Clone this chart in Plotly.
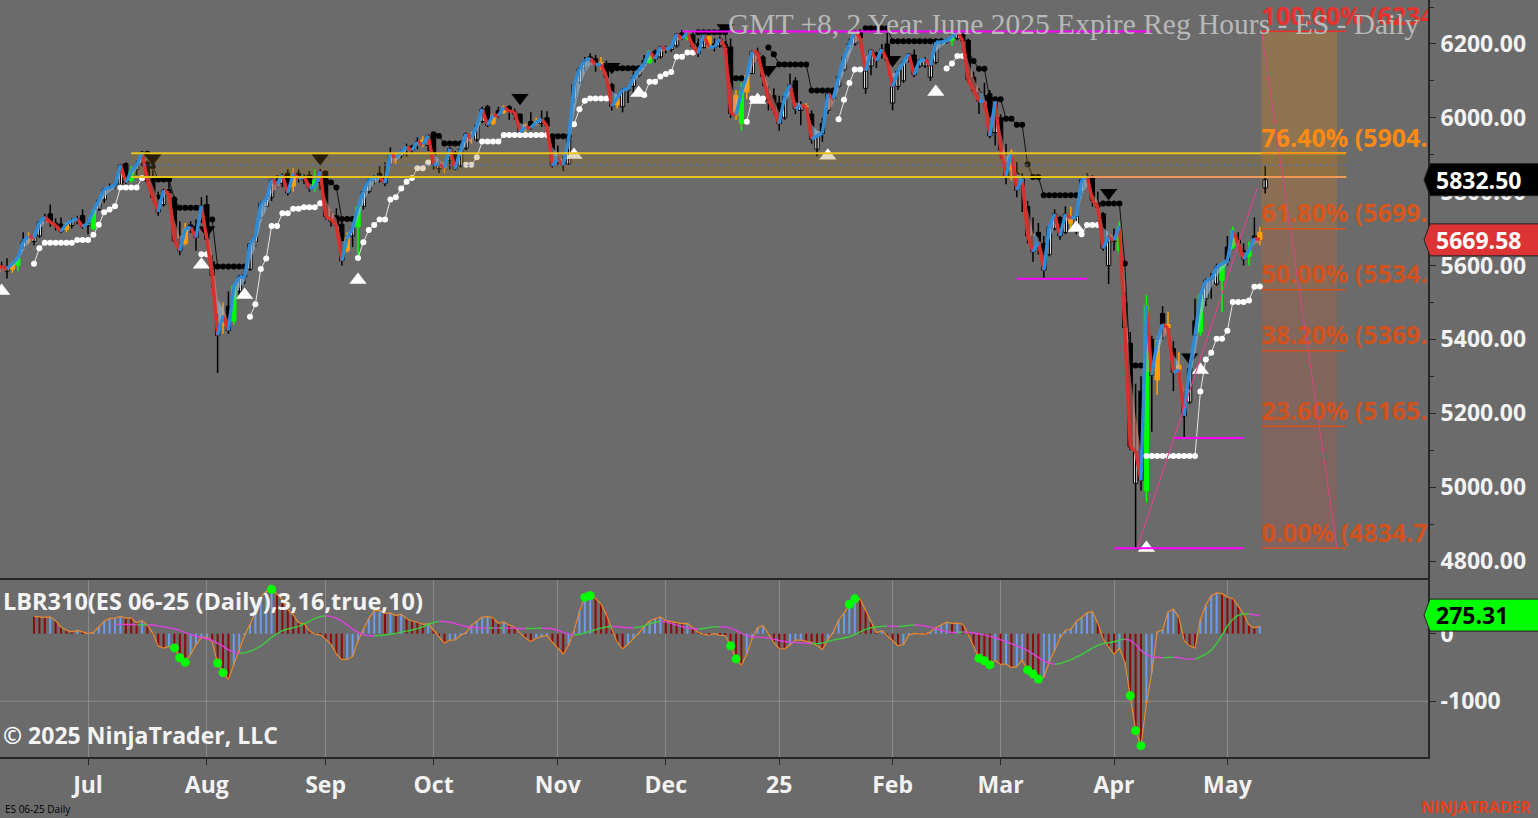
import numpy as np
import plotly.graph_objects as go

# ES 06-25 daily bars (reg hours). Bar index 0 = 1 Jul 2024, first bar = 3 Jun 2024
first_index = -19

opens = [
    5540, 5525, 5560, 5598, 5585, 5590, 5600, 5650, 5675, 5665, 5680, 5722, 5740, 5715, 5712, 5698, 5708, 5722, 5735,  # Jun
    5708, 5700, 5752, 5778, 5810, 5816, 5820, 5876, 5830, 5860, 5875, 5880, 5835, 5790, 5765, 5805, 5780, 5672, 5660, 5710, 5706, 5722,  # Jul
    5765, 5610, 5440, 5440, 5490, 5450, 5530, 5575, 5590, 5665, 5730, 5760, 5785, 5830, 5822, 5850, 5815, 5850, 5832, 5845, 5830, 5825,  # Aug
    5855, 5720, 5735, 5712, 5640, 5680, 5705, 5760, 5800, 5830, 5850, 5838, 5875, 5900, 5897, 5915, 5923, 5935, 5940, 5925,  # Sep
    5950, 5862, 5868, 5885, 5905, 5870, 5918, 5945, 5940, 5990, 6030, 5985, 6020, 6015, 6030, 6010, 6010, 5975, 5990, 5990, 5985, 6000, 5950,  # Oct
    5895, 5880, 5875, 6050, 6095, 6135, 6165, 6160, 6150, 6145, 6090, 6035, 6030, 6075, 6085, 6115, 6155, 6150, 6180, 6165,  # Nov
    6185, 6185, 6195, 6230, 6215, 6225, 6200, 6190, 6220, 6200, 6195, 6200, 6192, 6060, 5985, 6070, 6120, 6170, 6165, 6065, 6060,  # Dec
    6040, 6000, 6080, 6100, 6020, 6030, 6010, 5915, 5985, 6020, 6070, 6085, 6130, 6190, 6200, 6235, 6080, 6140, 6175, 6175, 6200,  # Jan
    6040, 6085, 6100, 6160, 6170, 6140, 6140, 6110, 6150, 6205, 6205, 6210, 6215, 6225, 6210, 6110, 6070, 6060, 6065, 5960,  # Feb
    6000, 5880, 5860, 5850, 5815, 5760, 5680, 5690, 5660, 5630, 5700, 5730, 5690, 5715, 5700, 5800, 5835, 5840, 5770, 5740, 5600,  # Mar
    5665, 5640, 5500, 5390, 5010, 5260, 4990, 5400, 5290, 5470, 5440, 5375, 5330, 5250, 5230, 5450, 5420, 5510, 5565, 5550, 5560,  # Apr
    5650, 5650, 5670, 5640, 5625, 5680, 5690, 5810,  # May
]
highs = [
    5552, 5545, 5602, 5610, 5620, 5612, 5625, 5690, 5690, 5680, 5722, 5740, 5765, 5728, 5730, 5718, 5728, 5735, 5752,
    5722, 5752, 5778, 5810, 5822, 5830, 5875, 5880, 5870, 5885, 5910, 5884, 5858, 5800, 5808, 5826, 5788, 5720, 5715, 5720, 5725, 5785,
    5790, 5628, 5470, 5500, 5530, 5550, 5575, 5592, 5662, 5684, 5775, 5785, 5835, 5845, 5850, 5860, 5865, 5860, 5848, 5856, 5860, 5862,
    5858, 5748, 5755, 5730, 5690, 5708, 5765, 5805, 5835, 5845, 5870, 5880, 5920, 5905, 5915, 5930, 5927, 5947, 5950, 5955,
    5955, 5885, 5880, 5920, 5910, 5920, 5960, 5962, 5985, 6030, 6035, 6010, 6030, 6035, 6035, 6025, 6012, 5985, 6015, 6000, 6020, 6018, 5955,
    5925, 5895, 5945, 6095, 6140, 6165, 6175, 6170, 6165, 6155, 6095, 6060, 6080, 6080, 6125, 6140, 6170, 6182, 6185, 6195,
    6195, 6195, 6230, 6238, 6238, 6232, 6215, 6228, 6225, 6215, 6220, 6208, 6215, 6075, 6095, 6118, 6182, 6190, 6170, 6085, 6080,
    6060, 6065, 6120, 6110, 6045, 6040, 6020, 5955, 6000, 6070, 6075, 6120, 6170, 6215, 6238, 6240, 6140, 6185, 6180, 6200, 6230,
    6110, 6130, 6155, 6175, 6185, 6160, 6165, 6150, 6210, 6215, 6215, 6225, 6236, 6230, 6215, 6125, 6080, 6095, 6075, 6050,
    6010, 5930, 5915, 5880, 5850, 5775, 5730, 5715, 5680, 5710, 5752, 5735, 5760, 5760, 5740, 5840, 5850, 5845, 5800, 5745, 5685,
    5700, 5720, 5530, 5420, 5280, 5300, 5520, 5410, 5410, 5490, 5475, 5395, 5365, 5260, 5340, 5510, 5525, 5565, 5580, 5605, 5610,
    5680, 5705, 5690, 5660, 5665, 5730, 5705, 5870,
]
lows = [
    5505, 5515, 5555, 5585, 5565, 5580, 5585, 5645, 5660, 5655, 5675, 5715, 5705, 5695, 5688, 5690, 5700, 5712, 5700,
    5685, 5695, 5748, 5770, 5805, 5808, 5818, 5818, 5825, 5845, 5868, 5822, 5775, 5735, 5760, 5790, 5662, 5628, 5655, 5688, 5640, 5715,
    5650, 5540, 5309, 5415, 5415, 5440, 5520, 5550, 5585, 5650, 5725, 5755, 5775, 5810, 5812, 5790, 5800, 5825, 5820, 5800, 5800, 5805,
    5725, 5705, 5700, 5600, 5635, 5650, 5620, 5752, 5795, 5820, 5825, 5815, 5870, 5875, 5890, 5895, 5903, 5915, 5920, 5910,
    5860, 5850, 5850, 5860, 5858, 5865, 5912, 5930, 5935, 5985, 5975, 5980, 6000, 6010, 5995, 5995, 5950, 5955, 5968, 5980, 5975, 5975, 5865,
    5870, 5855, 5872, 6040, 6090, 6125, 6150, 6125, 6130, 6100, 6020, 6025, 6015, 6040, 6060, 6110, 6135, 6145, 6150, 6160,
    6175, 6178, 6190, 6210, 6210, 6185, 6165, 6188, 6188, 6180, 6190, 6180, 6000, 5995, 5965, 6050, 6118, 6155, 6085, 6020, 6010,
    5965, 5995, 6070, 6010, 5980, 6020, 5930, 5895, 5935, 6010, 6045, 6080, 6125, 6185, 6195, 6200, 6065, 6115, 6135, 6160, 6145,
    6020, 6075, 6095, 6150, 6110, 6135, 6135, 6100, 6145, 6195, 6200, 6195, 6210, 6185, 6095, 6065, 6010, 6030, 5945, 5925,
    5890, 5820, 5830, 5785, 5745, 5660, 5610, 5630, 5566, 5625, 5695, 5670, 5685, 5700, 5685, 5790, 5825, 5760, 5740, 5640, 5550,
    5640, 5630, 5420, 5100, 4834.75, 4990, 4960, 5150, 5250, 5400, 5410, 5260, 5300, 5133, 5225, 5400, 5410, 5490, 5510, 5545, 5475,
    5600, 5645, 5650, 5600, 5600, 5665, 5655, 5795,
]
closes = [
    5528, 5536, 5599, 5597, 5592, 5605, 5620, 5666, 5679, 5676, 5718, 5732, 5718, 5709, 5692, 5714, 5722, 5727, 5705,
    5715, 5749, 5777, 5807, 5812, 5817, 5873, 5825, 5855, 5871, 5907, 5828, 5785, 5745, 5804, 5796, 5667, 5640, 5699, 5704, 5676, 5762,
    5671, 5572, 5411, 5465, 5424, 5544, 5569, 5569, 5659, 5680, 5768, 5779, 5833, 5822, 5845, 5796, 5850, 5835, 5842, 5810, 5812, 5855,
    5733, 5725, 5708, 5613, 5676, 5701, 5759, 5801, 5831, 5839, 5839, 5823, 5904, 5893, 5908, 5922, 5912, 5935, 5928, 5952,
    5874, 5874, 5865, 5916, 5861, 5916, 5957, 5945, 5980, 6024, 5980, 6007, 6006, 6029, 6018, 6016, 5962, 5974, 5973, 5988, 5997, 5978, 5870,
    5888, 5872, 5942, 6089, 6133, 6155, 6161, 6144, 6145, 6109, 6031, 6053, 6077, 6077, 6109, 6130, 6147, 6181, 6159, 6192,
    6187, 6190, 6227, 6215, 6230, 6193, 6174, 6225, 6191, 6191, 6214, 6190, 6012, 6007, 6071, 6114, 6180, 6177, 6111, 6047, 6022,
    5984, 6057, 6090, 6024, 6033, 6030, 5942, 5951, 5958, 6065, 6052, 6112, 6164, 6201, 6234, 6216, 6127, 6183, 6154, 6186, 6155,
    6084, 6127, 6151, 6173, 6116, 6156, 6158, 6142, 6205, 6205, 6210, 6219, 6234, 6208, 6103, 6073, 6045, 6046, 5951, 6045,
    5914, 5843, 5907, 5804, 5835, 5680, 5637, 5664, 5587, 5704, 5740, 5680, 5740, 5728, 5733, 5833, 5842, 5777, 5758, 5646, 5677,
    5668, 5706, 5432, 5109, 5097, 5018, 5492, 5303, 5398, 5441, 5431, 5310, 5318, 5193, 5322, 5411, 5519, 5560, 5563, 5596, 5604,
    5614, 5696, 5660, 5617, 5641, 5674, 5670, 5832.50,
]

month_ticks = [0, 22, 44, 64, 87, 107, 128, 149, 169, 190, 211]
month_labels = ["Jul", "Aug", "Sep", "Oct", "Nov", "Dec", "25", "Feb", "Mar", "Apr", "May"]

# painted bars
green_bars = [-13, 1, 8, 27, 42, 50, 104, 111, 121, 160, 191, 196, 206, 210, 212, 215]
orange_bars = [-14, -11, -4, 18, 25, 38, 48, 57, 62, 66, 71, 75, 77, 81, 83, 95, 98, 115, 120, 122,
               133, 171, 182, 198, 200, 202, 217]

# swing markers
swing_low_idx = [-16, 21, 29, 50, 90, 102, 124, 137, 157, 183, 196, 206]
swing_low_px = [5531, 5602, 5520, 5561, 5899, 6067, 6048, 5897, 6070, 5702, 4835, 5317]
swing_high_idx = [12, 22, 43, 80, 97, 118, 126, 149, 189, 204]
swing_high_px = [5891, 5696, 5891, 6054, 6138, 6243, 6130, 6157, 5797, 5352]

# oscillator thrust dots
thrust_idx = [16, 17, 18, 24, 25, 34, 92, 93, 119, 120, 141, 142, 165, 166, 167, 174, 175, 176, 193, 194, 195]

# drawing objects
fib_low, fib_high = 4834.75, 6234.50
fib_ratios = [0.0, 0.236, 0.382, 0.5, 0.618, 0.764, 1.0]
fib_colors = ["#d2521e", "#d2521e", "#d2521e", "#d2521e", "#d8561c", "#ff8a12", "#e8312c"]
fib_fills = ["#80645f", "#82655d", "#84675b", "#876a58", "#8b6f54", "#8e7450"]
zone_top, zone_bottom = 5903.75, 5840.00
level_start = [110, 172, 190, 201]
level_end = [197, 185, 214, 214]
level_price = [6234.00, 5564.00, 4834.75, 5133.00]

trend_last = 5669.58
osc_last = 275.31

# ---------------------------------------------------------------
o = np.array(opens, float)
h = np.array(highs, float)
l = np.array(lows, float)
c = np.array(closes, float)
x = np.arange(len(c)) + first_index
n_done = len(c) - 1          # last bar is still forming (indicators on bar close)
pos = {int(v): k for k, v in enumerate(x)}


def sma(a, n):
    out = np.full(len(a), np.nan)
    cs = np.cumsum(np.insert(a, 0, 0.0))
    out[n - 1:] = (cs[n:] - cs[:-n]) / n
    return out


BG = "#6b6b6b"
FONT = "Open Sans, Noto Sans, sans-serif"
PLOT_W = 1428.0
fig = go.Figure()

# fib zones (behind everything)
fib_levels = [fib_low + r * (fib_high - fib_low) for r in fib_ratios]
for k in range(len(fib_levels) - 1):
    fig.add_shape(type="rect", xref="x", yref="y", x0=217.3, x1=231.3,
                  y0=fib_levels[k], y1=fib_levels[k + 1], fillcolor=fib_fills[k],
                  line=dict(width=0), layer="below")

# candles
body_col, line_col, cat = [], [], []
for k in range(len(c)):
    xi = int(x[k])
    if xi in green_bars:
        body_col.append("#00ff00"); line_col.append("#00ff00"); cat.append("g")
    elif xi in orange_bars:
        body_col.append("#ffa000"); line_col.append("#ffa000"); cat.append("o")
    elif c[k] >= o[k]:
        body_col.append("#ffffff"); line_col.append("#000000"); cat.append("k")
    else:
        body_col.append("#000000"); line_col.append("#000000"); cat.append("k")

for key, col in [("k", "#000000"), ("g", "#00ff00"), ("o", "#ffa000")]:
    wx, wy = [], []
    for k in range(len(c)):
        if cat[k] == key:
            wx += [x[k], x[k], None]
            wy += [l[k], h[k], None]
    fig.add_trace(go.Scatter(x=wx, y=wy, mode="lines", line=dict(color=col, width=1.5)))

fig.add_trace(go.Bar(x=x, y=np.maximum(np.abs(c - o), 1.5), base=np.minimum(o, c), width=0.8,
                     marker=dict(color=body_col, line=dict(color=line_col, width=1))))

# ATR trailing stops (white = long stop, black = short stop)
tr = np.empty(len(c))
tr[0] = h[0] - l[0]
tr[1:] = np.maximum(h[1:], c[:-1]) - np.minimum(l[1:], c[:-1])
atr = sma(tr, 10)
mult = 1.7
fup = np.full(len(c), np.nan)
fdn = np.full(len(c), np.nan)
trend = np.zeros(len(c), int)
start = 9
fup[start] = c[start] - mult * atr[start]
fdn[start] = c[start] + mult * atr[start]
trend[start] = 1
for k in range(start + 1, n_done):
    up = c[k] - mult * atr[k]
    dn = c[k] + mult * atr[k]
    fup[k] = up if (up > fup[k - 1] or c[k - 1] < fup[k - 1]) else fup[k - 1]
    fdn[k] = dn if (dn < fdn[k - 1] or c[k - 1] > fdn[k - 1]) else fdn[k - 1]
    t = trend[k - 1]
    if t == -1 and c[k] > fdn[k - 1]:
        t = 1
    elif t == 1 and c[k] < fup[k - 1]:
        t = -1
    trend[k] = t
long_stop = [fup[k] if trend[k] == 1 else None for k in range(n_done)]
short_stop = [fdn[k] if trend[k] == -1 else None for k in range(n_done)]
fig.add_trace(go.Scatter(x=x[:n_done], y=long_stop, mode="lines+markers",
                         line=dict(color="#e6e6e6", width=1), marker=dict(color="#ffffff", size=6)))
fig.add_trace(go.Scatter(x=x[:n_done], y=short_stop, mode="lines+markers",
                         line=dict(color="#111111", width=1), marker=dict(color="#000000", size=6)))

# swing triangles
fig.add_trace(go.Scatter(x=swing_low_idx, y=swing_low_px, mode="markers",
                         marker=dict(symbol="triangle-up", size=15, color="#ffffff", line=dict(width=0))))
fig.add_trace(go.Scatter(x=swing_high_idx, y=swing_high_px, mode="markers",
                         marker=dict(symbol="triangle-down", size=15, color="#000000", line=dict(width=0))))

# zone fill (tints what is under it)
fig.add_trace(go.Scatter(x=[8, 233, 233, 8, 8], y=[zone_top, zone_top, zone_bottom, zone_bottom, zone_top],
                         mode="lines", fill="toself", fillcolor="rgba(151,115,23,0.27)", line=dict(width=0)))

# trend line with ribbon
lag = np.empty(len(c))
lag[0] = c[0]
for k in range(1, len(c)):
    lag[k] = 0.55 * c[k] + 0.45 * lag[k - 1]
rib = {True: ([], []), False: ([], [])}
seg = {True: ([], []), False: ([], [])}
for k in range(1, n_done):
    rising = bool(c[k] >= c[k - 1])
    rib[rising][0].extend([x[k - 1], x[k], x[k], x[k - 1], x[k - 1], None])
    rib[rising][1].extend([c[k - 1], c[k], lag[k], lag[k - 1], c[k - 1], None])
    seg[rising][0].extend([x[k - 1], x[k], None])
    seg[rising][1].extend([c[k - 1], c[k], None])
fig.add_trace(go.Scatter(x=rib[True][0], y=rib[True][1], mode="lines", fill="toself",
                         fillcolor="rgba(150,192,228,0.6)", line=dict(width=0)))
fig.add_trace(go.Scatter(x=rib[False][0], y=rib[False][1], mode="lines", fill="toself",
                         fillcolor="rgba(232,140,128,0.55)", line=dict(width=0)))
fig.add_trace(go.Scatter(x=seg[False][0], y=seg[False][1], mode="lines",
                         line=dict(color="#d8302c", width=3.4)))
fig.add_trace(go.Scatter(x=seg[True][0], y=seg[True][1], mode="lines",
                         line=dict(color="#2f8bd6", width=3.4)))

# zone lines
for yv in (zone_top, zone_bottom):
    fig.add_shape(type="line", xref="x", yref="y", x0=8, x1=233, y0=yv, y1=yv,
                  line=dict(color="#e8c41c", width=2))
fig.add_shape(type="line", xref="x", yref="y", x0=8, x1=233, y0=(zone_top + zone_bottom) / 2,
              y1=(zone_top + zone_bottom) / 2, line=dict(color="#4f6fe0", width=1, dash="dot"))
fig.add_shape(type="line", xref="x", yref="y", x0=185, x1=233, y0=zone_bottom, y1=zone_bottom,
              line=dict(color="#f58a6a", width=1.5))

# swing level lines
for s, e, p in zip(level_start, level_end, level_price):
    fig.add_shape(type="line", xref="x", yref="y", x0=s, x1=e, y0=p, y1=p,
                  line=dict(color="#ff00ff", width=2))

# anchor lines
fig.add_shape(type="line", xref="x", yref="y", x0=194.3, y0=fib_low, x1=216.5, y1=5810,
              line=dict(color="#d8448a", width=1.2))
fig.add_shape(type="line", xref="x", yref="y", x0=217.3, y0=fib_high, x1=231.3, y1=fib_low,
              line=dict(color="#d8448a", width=1))

# fib level lines + labels (clipped by the plot area like the original)
for lv, col in zip(fib_levels, fib_colors):
    fig.add_shape(type="line", xref="x", yref="y", x0=217.3, x1=233, y0=lv, y1=lv,
                  line=dict(color=col, width=1.5))
fig.add_trace(go.Scatter(
    x=[217.3] * len(fib_levels), y=fib_levels, mode="text",
    text=[f"{r * 100:.2f}% ({lv:.2f})" for r, lv in zip(fib_ratios, fib_levels)],
    textposition="top right", cliponaxis=True,
    textfont=dict(family=FONT, size=25, color=fib_colors, weight=700)))

# ---------------- lower panel: LBR 3/10 oscillator ----------------
tick_size = 0.25
osc = (sma(c, 3) - sma(c, 10)) / tick_size
valid = np.where(~np.isnan(osc))[0][0]
sig = np.full(len(c), np.nan)
sig[valid:] = sma(osc[valid:], 16)
osc_d = osc[:n_done]
hist_col = ["#6b9bea" if (k > 0 and osc_d[k] >= osc_d[k - 1]) else "#8e0b0b" for k in range(n_done)]
fig.add_trace(go.Bar(x=x[:n_done], y=osc_d, width=0.38, marker=dict(color=hist_col, line=dict(width=0)),
                     xaxis="x2", yaxis="y2"))
fig.add_trace(go.Scatter(x=x[:n_done], y=osc_d, mode="lines", line=dict(color="#e8892c", width=1.2),
                         xaxis="x2", yaxis="y2"))
sg = {True: ([], []), False: ([], [])}
for k in range(1, n_done):
    if np.isnan(sig[k - 1]):
        continue
    r = bool(sig[k] >= sig[k - 1])
    sg[r][0].extend([x[k - 1], x[k], None])
    sg[r][1].extend([sig[k - 1], sig[k], None])
fig.add_trace(go.Scatter(x=sg[True][0], y=sg[True][1], mode="lines", line=dict(color="#3ccf3c", width=1.4),
                         xaxis="x2", yaxis="y2"))
fig.add_trace(go.Scatter(x=sg[False][0], y=sg[False][1], mode="lines", line=dict(color="#e040e0", width=1.4),
                         xaxis="x2", yaxis="y2"))
fig.add_trace(go.Scatter(x=thrust_idx, y=[osc[pos[i]] for i in thrust_idx], mode="markers",
                         marker=dict(color="#00ff00", size=9), xaxis="x2", yaxis="y2"))
fig.add_shape(type="line", xref="paper", yref="y2", x0=0, x1=1, y0=-1000, y1=-1000,
              line=dict(color="#8a8a8a", width=1), layer="below")


# ---------------- value tags on the price axes ----------------
def add_tag(value, text, bg, fg, yref, units_per_px):
    half = 16 * units_per_px
    xa, xb, xc = 1424 / PLOT_W, 1430 / PLOT_W, 1545 / PLOT_W
    path = (f"M {xa},{value} L {xb},{value + half} L {xc},{value + half} "
            f"L {xc},{value - half} L {xb},{value - half} Z")
    fig.add_shape(type="path", path=path, xref="paper", yref=yref, fillcolor=bg,
                  line=dict(width=1, color="#222222"), layer="above")
    fig.add_annotation(x=1434 / PLOT_W, y=value, xref="paper", yref=yref, text=text, showarrow=False,
                       xanchor="left", yanchor="middle",
                       font=dict(family=FONT, size=23, color=fg, weight=700))


main_upp = (6319 - 4754) / 578.0
low_upp = (794 + 1824) / 177.0
add_tag(c[-1], f"{c[-1]:.2f}", "#000000", "#ffffff", "y", main_upp)
add_tag(trend_last, f"{trend_last:.2f}", "#dc3434", "#ffffff", "y", main_upp)
add_tag(osc_last, f"{osc_last:.2f}", "#00ff00", "#000000", "y2", low_upp)

# ---------------- texts ----------------
fig.add_annotation(x=1421 / PLOT_W, y=1 - 24 / 757, xref="paper", yref="paper",
                   text="GMT +8, 2 Year June 2025 Expire Reg Hours - ES - Daily", showarrow=False,
                   xanchor="right", yanchor="middle",
                   font=dict(family="Liberation Serif, DejaVu Serif, serif", size=29.5, color="#b8b8b8"))
fig.add_annotation(x=1 / PLOT_W, y=(757 - 601) / 757, xref="paper", yref="paper",
                   text="LBR310(ES 06-25 (Daily),3,16,true,10)", showarrow=False,
                   xanchor="left", yanchor="middle", font=dict(family=FONT, size=23.5, color="#f4f4f4", weight=700))
fig.add_annotation(x=1 / PLOT_W, y=(757 - 735) / 757, xref="paper", yref="paper",
                   text="© 2025 NinjaTrader, LLC", showarrow=False,
                   xanchor="left", yanchor="middle", font=dict(family=FONT, size=23, color="#f4f4f4", weight=700))
fig.add_annotation(x=3 / PLOT_W, y=(757 - 809) / 757, xref="paper", yref="paper",
                   text="ES 06-25 Daily", showarrow=False,
                   xanchor="left", yanchor="middle", font=dict(family=FONT, size=10, color="#000000"))
fig.add_annotation(x=1533 / PLOT_W, y=(757 - 807) / 757, xref="paper", yref="paper",
                   text="NINJATRADER", showarrow=False,
                   xanchor="right", yanchor="middle", font=dict(family=FONT, size=16, color="#e8401c", weight=700))

axis_font = dict(family=FONT, size=23, color="#f2f2f2", weight=700)
x_range = [(0 - 88) / 5.4, (1428 - 88) / 5.4]
fig.update_layout(
    width=1538, height=818,
    margin=dict(l=0, r=110, t=0, b=61),
    paper_bgcolor=BG, plot_bgcolor=BG,
    showlegend=False, hovermode=False, barmode="overlay",
    xaxis=dict(domain=[0, 1], anchor="y", range=x_range, showticklabels=False, showgrid=False,
               zeroline=False, showline=True, linecolor="#262626", linewidth=2, ticks=""),
    xaxis2=dict(domain=[0, 1], anchor="y2", matches="x", range=x_range, tickvals=month_ticks,
                ticktext=month_labels, ticks="outside", ticklen=6, tickcolor="#262626",
                showgrid=True, gridcolor="#8a8a8a", gridwidth=1, zeroline=False, showline=True,
                linecolor="#262626", linewidth=2, ticklabelstandoff=0,
                tickfont=dict(family=FONT, size=23, color="#f2f2f2", weight=700)),
    yaxis=dict(domain=[1 - 578 / 757, 1], anchor="x", side="right", range=[4754, 6319],
               tick0=0, dtick=200, tickformat=".2f", ticks="outside", ticklen=6, tickcolor="#262626",
               showline=True, linecolor="#262626", linewidth=2, showgrid=False, zeroline=False,
               tickfont=axis_font,
               minor=dict(dtick=100, ticks="outside", ticklen=4, tickcolor="#262626", showgrid=False)),
    yaxis2=dict(domain=[0, 177 / 757], anchor="x2", side="right", range=[-1824, 794],
                tickvals=[-1000, 0], ticktext=["-1000", "0"], ticks="outside", ticklen=6,
                tickcolor="#262626", showline=True, linecolor="#262626", linewidth=2,
                showgrid=False, zeroline=False, tickfont=axis_font),
)

fig.write_html("out.html", config={"displayModeBar": False},
               post_script="document.body.style.margin='0';document.body.style.overflow='hidden';")
